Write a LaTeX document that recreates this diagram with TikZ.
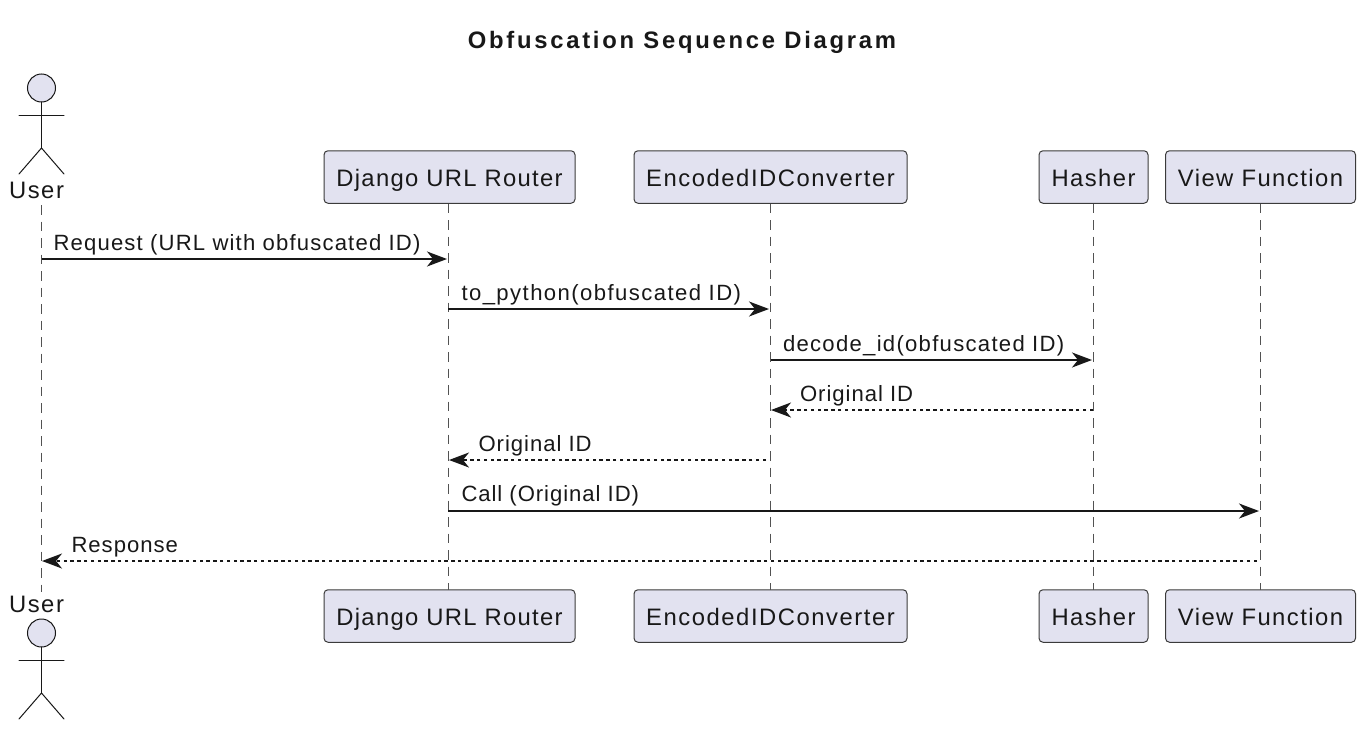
\documentclass[tikz,border=0pt]{standalone}
\usepackage{fontspec}
\setmainfont[LetterSpace=5.6]{Liberation Sans}
\newfontfamily\titlefont[LetterSpace=11.5]{Liberation Sans}
\newfontfamily\partfont[LetterSpace=6]{Liberation Sans}
\usetikzlibrary{arrows.meta}
\definecolor{actorfill}{HTML}{E2E2F0}
\definecolor{ink}{HTML}{181818}
\tikzset{
  x=1pt,y=-1pt,
  every node/.style={font=\fontsize{22.1}{26}\selectfont,text=ink,inner sep=0pt,outer sep=0pt},
  partbox/.style={draw=ink!85!white,line width=1pt,fill=actorfill,rounded corners=4pt,minimum height=52.5pt,anchor=center,
     font=\partfont\fontsize{23.8}{28}\selectfont,text height=18pt,text depth=0pt},
  actorname/.style={anchor=base,font=\partfont\fontsize{23.8}{28}\selectfont},
  lifeline/.style={draw=ink!75!white,line width=1pt,dash pattern=on 9.5pt off 7pt},
  limb/.style={draw=ink,line width=1pt,line cap=round},
  head/.style={draw=ink,line width=1pt,fill=actorfill},
  tipstyle/.style={-{Stealth[length=20pt,width=15pt,inset=6pt]}},
  callmsg/.style={draw=ink,line width=1.8pt,tipstyle},
  retmsg/.style={draw=ink,line width=1.8pt,dash pattern=on 3.4pt off 3.4pt,tipstyle},
  msglabel/.style={anchor=base west},
}
\newcommand{\spc}[1]{\addfontfeature{LetterSpace=#1}}
\begin{document}
\begin{tikzpicture}
\useasboundingbox (0,0) rectangle (1365,731);
\fill[white] (0,0) rectangle (1365,731);
\node[anchor=base,font=\titlefont\fontsize{23.8}{28}\selectfont\bfseries] (title) at (682,48) {Obfuscation Sequence Diagram};

% lifeline ends
\coordinate (utop) at (41.5,205);
\coordinate (ubot) at (41.5,592);
% participants
\node[partbox,minimum width=251pt] (dt) at (449.5,177) {\spc{5.6}Django URL Router};
\node[partbox,minimum width=273pt] (et) at (770.5,177) {\spc{6.5}EncodedIDConverter};
\node[partbox,minimum width=109pt] (ht) at (1093.5,177) {Hasher};
\node[partbox,minimum width=190pt] (vt) at (1260.5,177) {\spc{6.2}View Function};
\node[partbox,minimum width=251pt] (db) at (449.5,616) {\spc{5.6}Django URL Router};
\node[partbox,minimum width=273pt] (eb) at (770.5,616) {\spc{6.5}EncodedIDConverter};
\node[partbox,minimum width=109pt] (hb) at (1093.5,616) {Hasher};
\node[partbox,minimum width=190pt] (vb) at (1260.5,616) {\spc{6.2}View Function};

% lifelines
\coordinate (dlt) at (448,203.5); \coordinate (dlb) at (448,589.5);
\coordinate (elt) at (770.5,203.5); \coordinate (elb) at (770.5,589.5);
\coordinate (hlt) at (1093,203.5); \coordinate (hlb) at (1093,589.5);
\coordinate (vlt) at (1260.5,203.5); \coordinate (vlb) at (1260.5,589.5);
\draw[lifeline] (utop) -- (ubot);
\draw[lifeline] (dlt) -- (dlb);
\draw[lifeline] (elt) -- (elb);
\draw[lifeline] (hlt) -- (hlb);
\draw[lifeline] (vlt) -- (vlb);

% top actor
\node[circle,head,minimum size=28pt] (uhead) at (41.5,88) {};
\coordinate (uhip) at (41.5,148);
\coordinate (uarml) at (19,115); \coordinate (uarmr) at (64,115);
\coordinate (ulegl) at (19,174); \coordinate (ulegr) at (64,174);
\draw[limb] (uhead) -- (uhip);
\draw[limb] (uarml) -- (uarmr);
\draw[limb] (ulegl) -- (uhip) -- (ulegr);
\node[actorname] (ulabel) at (36.5,198) {\spc{6.6}User};

% bottom actor
\node[actorname] (blabel) at (36.5,612.5) {\spc{6.6}User};
\node[circle,head,minimum size=28pt] (bhead) at (41.5,633) {};
\coordinate (bhip) at (41.5,693);
\coordinate (barml) at (19,660.5); \coordinate (barmr) at (64,660.5);
\coordinate (blegl) at (19,719); \coordinate (blegr) at (64,719);
\draw[limb] (bhead) -- (bhip);
\draw[limb] (barml) -- (barmr);
\draw[limb] (blegl) -- (bhip) -- (blegr);

% messages
\coordinate (m1a) at (41.5,259); \coordinate (m1b) at (447,259);
\coordinate (m2a) at (448,309); \coordinate (m2b) at (769,309);
\coordinate (m3a) at (770.5,360); \coordinate (m3b) at (1092,360);
\coordinate (m4a) at (1093,410); \coordinate (m4b) at (771,410);
\coordinate (m5a) at (766,460); \coordinate (m5b) at (449,460);
\coordinate (m6a) at (448,511); \coordinate (m6b) at (1259,511);
\coordinate (m7a) at (1257,561); \coordinate (m7b) at (42,561);
\draw[callmsg] (m1a) -- (m1b);
\draw[callmsg] (m2a) -- (m2b);
\draw[callmsg] (m3a) -- (m3b);
\draw[retmsg] (m4a) -- (m4b);
\draw[retmsg] (m5a) -- (m5b);
\draw[callmsg] (m6a) -- (m6b);
\draw[retmsg] (m7a) -- (m7b);
\node[msglabel] (l1) at (53.5,250) {\spc{5.3}Request (URL with obfuscated ID)};
\node[msglabel] (l2) at (461.5,300) {\spc{6.45}to\_python(obfuscated ID)};
\node[msglabel] (l3) at (783,351) {\spc{5.8}decode\_id(obfuscated ID)};
\node[msglabel] (l4) at (800,401) {\spc{4.4}Original ID};
\node[msglabel] (l5) at (478.5,451) {\spc{4.4}Original ID};
\node[msglabel] (l6) at (461.5,501) {\spc{4.3}Call (Original ID)};
\node[msglabel] (l7) at (71.5,552) {\spc{4.5}Response};
\end{tikzpicture}
\end{document}
